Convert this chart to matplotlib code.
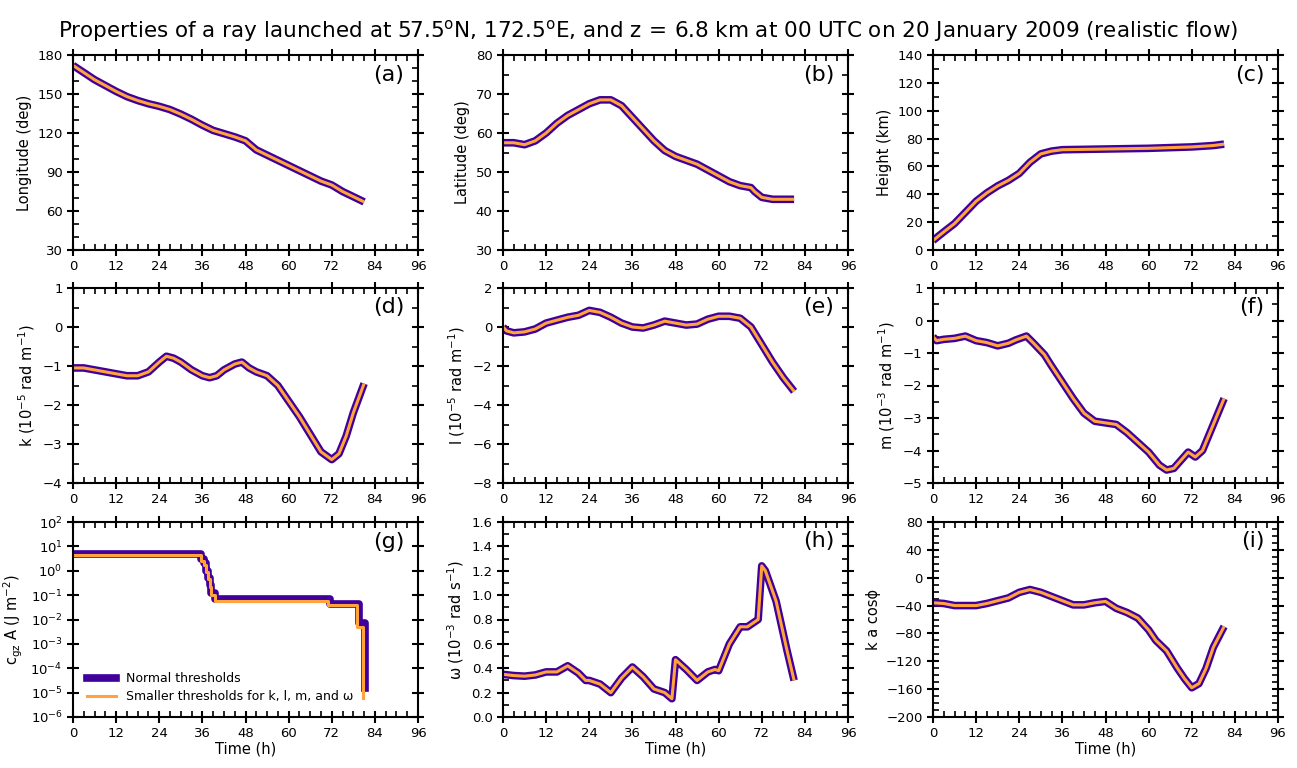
import numpy as np
import matplotlib.pyplot as plt
from matplotlib.ticker import MultipleLocator, FixedLocator, NullLocator

# time axes (hours) and values
t_lon = [0, 3, 6, 9, 12, 15, 18, 21, 24, 27, 30, 33, 36, 39, 42, 45, 48, 51, 54, 57, 60, 63, 66, 69, 72, 75, 78, 81]
lon = [172, 166.5, 161, 156.5, 152, 148, 145, 142.5, 140.5, 138, 134.5, 130.5, 126, 122, 119.5, 117, 114, 107, 103, 99, 95, 91, 87, 83, 80, 75, 71, 67]

t_lat = [0, 3, 6, 9, 12, 15, 18, 21, 24, 27, 30, 33, 36, 39, 42, 45, 48, 51, 54, 57, 60, 63, 66, 69, 70, 72, 75, 78, 81]
lat = [57.5, 57.5, 57, 58, 60, 62.5, 64.5, 66, 67.5, 68.5, 68.5, 67, 64, 61, 58, 55.5, 54, 53, 52, 50.5, 49, 47.5, 46.5, 46, 45, 43.5, 43, 43, 43]

t_z = [0, 3, 6, 9, 12, 15, 18, 21, 24, 27, 30, 33, 36, 48, 60, 72, 78, 81]
height = [6.8, 13, 19, 27, 35, 41, 46, 50, 55, 63, 69, 71, 72, 72.5, 73, 74, 75, 76]

t_k = [0, 3, 6, 9, 12, 15, 18, 21, 24, 26, 28, 30, 33, 36, 38, 40, 42, 45, 47, 49, 51, 54, 57, 60, 63, 66, 69, 72, 74, 76, 78, 80, 81]
k = [-1.05, -1.05, -1.1, -1.15, -1.2, -1.25, -1.25, -1.15, -0.9, -0.75, -0.8, -0.9, -1.1, -1.25, -1.3, -1.25, -1.1, -0.95, -0.9, -1.05, -1.15, -1.25, -1.5, -1.9, -2.3, -2.75, -3.2, -3.4, -3.25, -2.8, -2.2, -1.7, -1.45]

t_l = [0, 1, 3, 6, 9, 12, 15, 18, 21, 24, 27, 30, 33, 36, 39, 42, 45, 48, 51, 54, 57, 60, 63, 66, 69, 72, 75, 78, 81]
l = [0, -0.2, -0.3, -0.25, -0.1, 0.2, 0.35, 0.5, 0.6, 0.85, 0.75, 0.5, 0.2, 0.0, -0.05, 0.1, 0.3, 0.2, 0.1, 0.15, 0.4, 0.55, 0.55, 0.45, 0.0, -0.9, -1.8, -2.6, -3.3]

t_m = [0, 1, 3, 6, 9, 12, 15, 18, 21, 23, 26, 28, 31, 33, 36, 39, 42, 45, 48, 51, 54, 57, 60, 63, 65, 67, 69, 71, 73, 75, 78, 81]
m = [-0.5, -0.62, -0.58, -0.55, -0.48, -0.62, -0.68, -0.78, -0.7, -0.6, -0.48, -0.7, -1.05, -1.4, -1.9, -2.4, -2.85, -3.1, -3.15, -3.2, -3.45, -3.75, -4.05, -4.45, -4.6, -4.55, -4.3, -4.05, -4.2, -4.0, -3.2, -2.4]

# wave action flux (step-like), two threshold settings
t_a1 = [0, 35, 35.5, 36.5, 37, 37.5, 38, 38.5, 39.5, 71, 71.5, 79, 79.5, 81, 81.3]
a1 = [5, 5, 3, 2, 1, 0.5, 0.25, 0.12, 0.07, 0.07, 0.045, 0.045, 0.007, 0.007, 1.5e-5]
t_a2 = [0, 35, 35.5, 36.5, 37, 37.5, 38, 38.5, 39.5, 70.5, 71, 78.5, 79, 80.5, 80.8]
a2 = [4.5, 4.5, 2.6, 1.8, 0.9, 0.45, 0.22, 0.1, 0.06, 0.06, 0.04, 0.04, 0.005, 0.005, 6e-6]

t_w = [0, 3, 6, 9, 12, 15, 18, 21, 23, 24, 27, 30, 33, 36, 39, 42, 45, 47, 48, 51, 54, 57, 59, 60, 63, 66, 68, 71, 72, 73, 76, 79, 81]
omega = [0.35, 0.34, 0.335, 0.345, 0.37, 0.37, 0.42, 0.36, 0.3, 0.3, 0.27, 0.2, 0.32, 0.41, 0.33, 0.23, 0.2, 0.15, 0.47, 0.39, 0.3, 0.37, 0.39, 0.38, 0.6, 0.74, 0.74, 0.8, 1.24, 1.2, 0.95, 0.55, 0.3]

t_kac = [0, 3, 6, 9, 12, 15, 18, 21, 24, 27, 30, 33, 36, 39, 42, 45, 48, 51, 54, 57, 60, 62, 65, 68, 70, 72, 74, 76, 78, 81]
kacos = [-36, -37, -40, -40, -40, -37, -33, -29, -21, -17, -21, -27, -33, -39, -39, -36, -34, -44, -50, -58, -75, -90, -105, -130, -145, -158, -152, -130, -100, -70]

purple = '#40009b'
orange = '#ffa33a'

panels = [
    (t_lon, lon, 'Longitude (deg)', (30, 180), 30, 10, '(a)'),
    (t_lat, lat, 'Latitude (deg)', (30, 80), 10, 5, '(b)'),
    (t_z, height, 'Height (km)', (0, 140), 20, 10, '(c)'),
    (t_k, k, r'k (10$^{-5}$ rad m$^{-1}$)', (-4, 1), 1, 0.5, '(d)'),
    (t_l, l, r'l (10$^{-5}$ rad m$^{-1}$)', (-8, 2), 2, 1, '(e)'),
    (t_m, m, r'm (10$^{-3}$ rad m$^{-1}$)', (-5, 1), 1, 0.5, '(f)'),
    (None, None, r'c$_{\rm gz}$ A (J m$^{-2}$)', (1e-6, 1e2), None, None, '(g)'),
    (t_w, omega, r'ω (10$^{-3}$ rad s$^{-1}$)', (0, 1.6), 0.2, 0.1, '(h)'),
    (t_kac, kacos, 'k a cosϕ', (-200, 80), 40, 10, '(i)'),
]

fig = plt.figure(figsize=(12.97, 7.68), dpi=100)
W, H = 1297, 768
lefts = [73, 503, 933]
tops = [55, 288, 522]
aw, ah = 345, 195

for i, (tt, yy, ylab, ylim, major, minor, letter) in enumerate(panels):
    r, c = divmod(i, 3)
    ax = fig.add_axes([lefts[c] / W, 1 - (tops[r] + ah) / H, aw / W, ah / H])
    if letter == '(g)':
        ax.set_yscale('log')
        ax.plot(t_a1, a1, color=purple, lw=5.5, drawstyle='steps-post', label='Normal thresholds')
        ax.plot(t_a2, a2, color=orange, lw=2.2, drawstyle='steps-post',
                label=r'Smaller thresholds for k, l, m, and ω')
        ax.set_ylim(*ylim)
        ax.yaxis.set_major_locator(FixedLocator([10.0 ** e for e in range(-6, 3)]))
        ax.yaxis.set_minor_locator(NullLocator())
        ax.legend(loc='lower left', frameon=False, fontsize=9, handlelength=2.3,
                  borderaxespad=0.7, labelspacing=0.4)
    else:
        ax.plot(tt, yy, color=purple, lw=5.5, solid_capstyle='butt', solid_joinstyle='round')
        ax.plot(tt, yy, color=orange, lw=2.2, solid_capstyle='butt', solid_joinstyle='round')
        ax.set_ylim(*ylim)
        ax.yaxis.set_major_locator(MultipleLocator(major))
        ax.yaxis.set_minor_locator(MultipleLocator(minor))
        if letter == '(h)':
            ax.yaxis.set_major_formatter(plt.FormatStrFormatter('%.1f'))
    ax.set_xlim(0, 96)
    ax.xaxis.set_major_locator(MultipleLocator(12))
    ax.xaxis.set_minor_locator(MultipleLocator(3))
    ax.tick_params(which='major', direction='inout', length=8, width=1.5,
                   top=True, right=True, labelsize=9.5)
    ax.tick_params(which='minor', direction='in', length=4, width=1.2, top=True, right=True)
    for s in ax.spines.values():
        s.set_linewidth(1.5)
    ax.set_ylabel(ylab, fontsize=10.5)
    if r == 2:
        ax.set_xlabel('Time (h)', fontsize=10.5, labelpad=1)
    ax.text(0.96, 0.9, letter, transform=ax.transAxes, ha='right', va='center', fontsize=16)

fig.suptitle(r'Properties of a ray launched at 57.5$^{\rm o}$N, 172.5$^{\rm o}$E, and z$\,=\,$6.8 km '
             r'at 00 UTC on 20 January 2009 (realistic flow)', fontsize=15.5, y=0.977)

fig.savefig('out.png', dpi=100)
